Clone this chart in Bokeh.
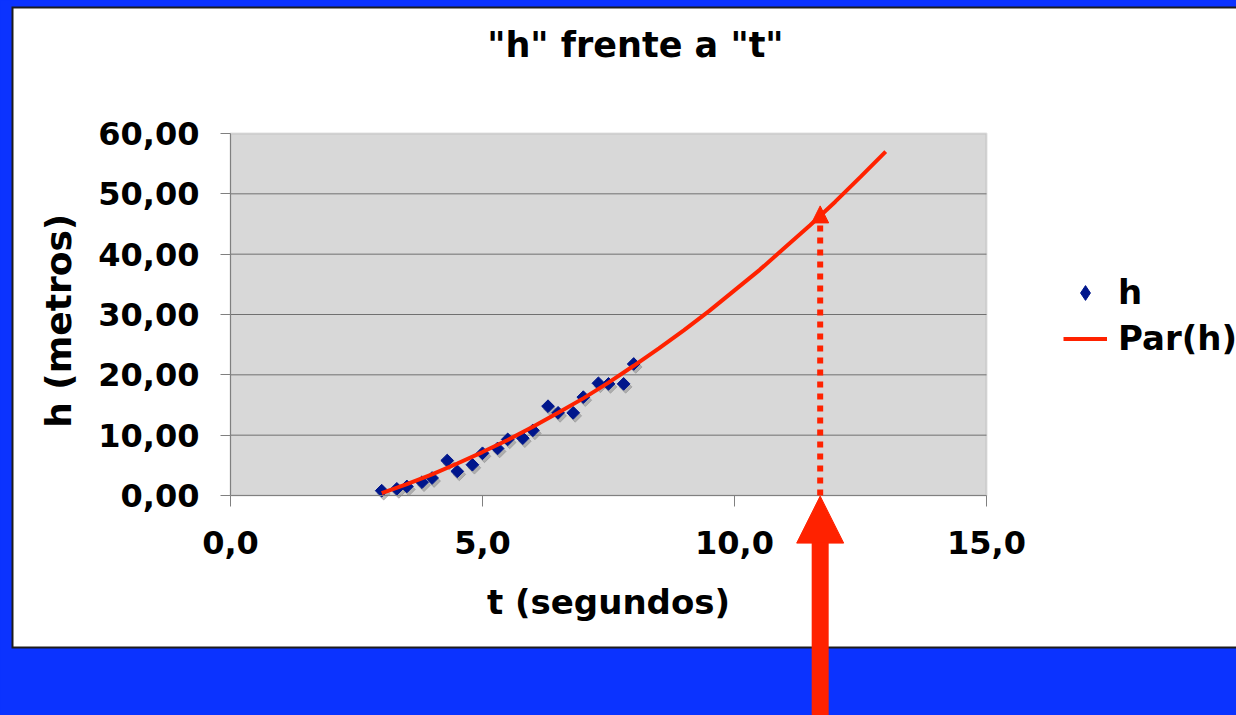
import math
from bokeh.plotting import figure
from bokeh.models import (Range1d, FixedTicker, CustomJSTickFormatter, Legend, LegendItem,
                          Label, BoxAnnotation, Arrow, NormalHead, ColumnDataSource)
from bokeh.embed import file_html
from bokeh.resources import INLINE
from bokeh.core.properties import value

# ---- data ----
t_obs = [3.0, 3.3, 3.5, 3.8, 4.0, 4.3, 4.5, 4.8, 5.0, 5.3, 5.5,
         5.8, 6.0, 6.3, 6.5, 6.8, 7.0, 7.3, 7.5, 7.8, 8.0]
h_obs = [0.8, 1.1, 1.5, 2.2, 2.9, 5.8, 4.0, 5.1, 7.0, 7.8, 9.3,
         9.5, 10.8, 14.8, 13.7, 13.7, 16.3, 18.6, 18.5, 18.5, 21.8]
t_fit = [3.0, 3.5, 4.0, 4.5, 5.0, 5.5, 6.0, 6.5, 7.0, 7.5, 8.0,
         8.5, 9.0, 9.5, 10.0, 10.5, 11.0, 11.5, 12.0, 12.5, 13.0]
h_fit = [0.4, 1.9, 3.5, 5.3, 7.2, 9.2, 11.4, 13.7, 16.1, 18.7, 21.5,
         24.4, 27.4, 30.6, 34.0, 37.4, 41.1, 44.8, 48.7, 52.8, 57.0]
t_read = 11.7      # time
h_read = 48.0      # top of the dotted guide
x_ticks = [0, 5, 10, 15]
y_ticks = [0, 10, 20, 30, 40, 50, 60]

title_text = '"h" frente a  "t"'
x_label = "t (segundos)"
y_label = "h  (metros)"
series_names = ["h", "Par(h)"]

# ---- styles / layout (pixels) ----
BLUE = "#0b33ff"
RED = "#ff2200"
NAVY = "#00168c"
GREY_BG = "#d8d8d8"
FONT = "DejaVu Sans"
W, H = 1236, 715
PL, PR, PT, PB = 230, 986, 133, 495          # plot-area box on the canvas

xmin, xmax = x_ticks[0], x_ticks[-1]
ymin, ymax = y_ticks[0], y_ticks[-1]
sx = (xmax - xmin) / (PR - PL)
sy = (ymax - ymin) / (PB - PT)
x_range = Range1d(xmin - PL * sx, xmax + (W - PR) * sx)
y_range = Range1d(ymin - (H - PB) * sy, ymax + PT * sy)

p = figure(width=W, height=H, x_range=x_range, y_range=y_range,
           output_backend="svg", toolbar_location=None,
           min_border_left=0, min_border_right=0, min_border_top=0, min_border_bottom=0,
           background_fill_color=BLUE, border_fill_color=BLUE)
p.title.visible = False
p.outline_line_color = None
p.xgrid.visible = False
p.ygrid.visible = False


def sbox(l, r, t, b, color, **kw):
    """box given in canvas pixels (top-left origin)"""
    return BoxAnnotation(left=l, right=r, top=H - t, bottom=H - b,
                         left_units="screen", right_units="screen",
                         top_units="screen", bottom_units="screen",
                         fill_color=color, fill_alpha=1, line_alpha=0, level="image", **kw)


# white chart box with dark border
p.add_layout(sbox(11, W + 5, 6, 648, "#1c1c1c"))
p.add_layout(sbox(13, W + 5, 8, 646, "white"))
# grey plot area
p.add_layout(BoxAnnotation(left=xmin, right=xmax, bottom=ymin, top=ymax,
                           fill_color=GREY_BG, fill_alpha=1,
                           line_color="#989898", line_width=2, level="image"))

# horizontal gridlines inside the plot area
gy = y_ticks[1:-1]
p.segment(x0=[xmin] * len(gy), y0=gy, x1=[xmax] * len(gy), y1=gy,
          line_color="#707070", line_width=1)

for ax in (p.xaxis[0], p.yaxis[0]):
    ax.axis_line_color = "#808080"
    ax.major_tick_line_color = "#808080"
    ax.major_tick_in = 0
    ax.minor_tick_line_color = None
    ax.major_label_text_font = FONT
    ax.major_label_text_font_size = "32px"
    ax.major_label_text_font_style = "bold"
    ax.major_label_text_color = "black"
    ax.axis_label_text_font = FONT
    ax.axis_label_text_font_style = "bold"
    ax.axis_label_text_color = "black"

p.xaxis.fixed_location = ymin
p.yaxis.fixed_location = xmin
p.xaxis.bounds = (xmin, xmax)
p.yaxis.bounds = (ymin, ymax)
p.xaxis.ticker = FixedTicker(ticks=x_ticks)
p.yaxis.ticker = FixedTicker(ticks=y_ticks)
p.xaxis.formatter = CustomJSTickFormatter(code="return tick.toFixed(1).replace('.', ',');")
p.yaxis.formatter = CustomJSTickFormatter(code="return tick.toFixed(2).replace('.', ',');")
p.yaxis.major_tick_out = 10
p.yaxis.major_label_standoff = 21
p.xaxis.major_tick_out = 11
p.xaxis.major_label_standoff = 24
p.xaxis.axis_label = x_label
p.yaxis.axis_label = y_label
p.xaxis.axis_label_text_font_size = "34px"
p.yaxis.axis_label_text_font_size = "36px"
p.xaxis.axis_label_standoff = 25
p.yaxis.axis_label_standoff = 16

# marker shadow, legend diamond (hidden under the first point), markers, fitted curve
p.scatter([t + 0.04 for t in t_obs], [h - 0.5 for h in h_obs], marker="square",
          angle=math.pi / 4, size=9, fill_color="#8c8c8c", line_color="#8c8c8c", alpha=0.55)
leg_src = ColumnDataSource(data=dict(x=t_obs[:1], y=h_obs[:1]))
r_leg = p.scatter(x="x", y="y", source=leg_src, marker="diamond", size=10,
                  fill_color=NAVY, line_color=NAVY)
r_pts = p.scatter(t_obs, h_obs, marker="square", angle=math.pi / 4, size=9,
                  fill_color=NAVY, line_color=NAVY)
r_line = p.line(t_fit, h_fit, line_color=RED, line_width=4)

legend = Legend(items=[LegendItem(label=value(series_names[0]), renderers=[r_leg]),
                       LegendItem(label=value(series_names[1]), renderers=[r_line])],
                location=(1063, H - 358), orientation="vertical",
                glyph_width=44, glyph_height=37, label_height=40, spacing=6,
                padding=0, margin=0, label_standoff=11,
                label_text_font=FONT, label_text_font_size="34px",
                label_text_font_style="bold", label_text_color="black",
                border_line_alpha=0, background_fill_alpha=0)
p.add_layout(legend)

p.add_layout(Label(x=641, y=H - 44, x_units="screen", y_units="screen", text=title_text,
                   text_align="center", text_baseline="alphabetic",
                   text_font=FONT, text_font_size="35px", text_font_style="bold",
                   text_color="black"))

# dotted guide and big red arrow
p.add_layout(Arrow(x_start=t_read, y_start=ymin, x_end=t_read, y_end=h_read,
                   line_color=RED, line_width=6, line_dash="6 6",
                   end=NormalHead(size=17, fill_color=RED, line_color=RED, line_width=1)))
p.add_layout(Arrow(x_start=t_read, y_start=y_range.start - 5, x_end=t_read, y_end=ymin - 0.1,
                   line_color=RED, line_width=17,
                   end=NormalHead(size=47, fill_color=RED, line_color=RED, line_width=1)))

html = file_html(p, INLINE, title="h frente a t")
html = html.replace("</head>",
                    "<style>html,body{margin:0;padding:0;overflow:hidden;background:#0b33ff;}</style></head>", 1)
open("out.html", "w").write(html)
